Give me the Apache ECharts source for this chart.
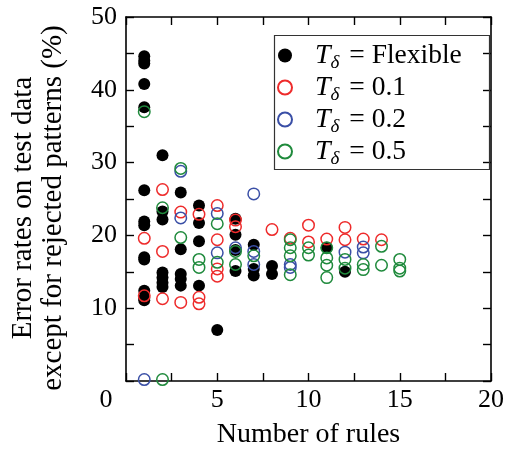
<!DOCTYPE html>
<html><head><meta charset="utf-8">
<script src="https://cdn.jsdelivr.net/npm/echarts@6/dist/echarts.min.js"></script>
<style>html,body{margin:0;padding:0;background:#fff}#c{width:507px;height:454px}</style>
</head><body><div id="c"></div>
<script>
const xTicks = [0, 5, 10, 15, 20];
const yTicks = [0, 10, 20, 30, 40, 50];
const seriesNames = ['Flexible', '0.1', '0.2', '0.5'];
const xTitle = 'Number of rules';
const yTitle = ['Error rates on test data', 'except for rejected patterns (%)'];

const flexible = [
  [1,44.6],[1,44.0],[1,43.6],[1,40.8],[1,37.6],[1,26.2],[1,21.9],[1,21.4],[1,17.0],[1,16.7],[1,12.4],[1,11.4],[1,11.1],
  [2,31.0],[2,23.3],[2,22.2],[2,14.9],[2,14.2],[2,13.5],[2,12.9],
  [3,25.9],[3,18.1],[3,14.7],[3,14.0],[3,13.1],
  [4,24.1],[4,21.7],[4,19.2],[4,13.1],
  [5,7.0],
  [6,22.3],[6,20.1],[6,18.0],[6,15.1],
  [7,18.7],[7,15.4],[7,14.5],
  [8,15.8],[8,14.7],
  [11,18.3],[12,15.0]
];
const t01 = [
  [1,19.6],[1,11.7],
  [2,26.3],[2,17.8],[2,11.3],
  [3,23.2],[3,10.8],
  [4,22.9],[4,11.5],[4,10.6],
  [5,24.1],[5,19.4],[5,15.4],[5,14.4],
  [6,22.1],[6,21.2],
  [8,20.8],
  [9,19.6],
  [10,21.4],[10,19.1],
  [11,19.5],
  [12,21.1],[12,19.4],
  [13,19.5],
  [14,19.4]
];
const t02 = [
  [1,0.2],[3,28.8],[3,22.4],[5,23.0],[5,17.6],[6,18.3],[7,25.7],[7,17.8],[7,16.0],
  [9,16.0],[9,15.6],[12,17.7],[13,18.4],[13,17.6]
];
const t05 = [
  [1,37.0],[2,0.2],[2,23.8],[3,29.2],[3,19.7],[4,16.7],[4,15.6],[5,21.6],[5,16.3],
  [6,17.8],[6,16.0],[7,17.2],[9,19.4],[9,18.3],[9,17.2],[9,14.6],[10,18.3],[10,17.3],
  [11,18.3],[11,16.9],[11,15.9],[11,14.2],[12,16.7],[12,15.5],[13,16.0],[13,15.3],
  [14,18.5],[14,15.9],[15,16.7],[15,15.5],[15,15.1]
];

const FONT = '"Liberation Serif", "Times New Roman", serif';
const colors = ['#000000', '#ee2b2b', '#3a4fa6', '#1f8a3c'];
const dataSets = [flexible, t01, t02, t05];

const axisCommon = {
  type: 'value',
  axisLine: { show: true, onZero: false, lineStyle: { color: '#000', width: 1.6 } },
  axisTick: { show: true, inside: true, length: 8, lineStyle: { color: '#000', width: 1.4 } },
  minorTick: { show: true, splitNumber: 2, length: 8, lineStyle: { color: '#000', width: 1.4 } },
  splitLine: { show: false },
  minorSplitLine: { show: false }
};

const chart = echarts.init(document.getElementById('c'), null, { renderer: 'canvas' });
chart.setOption({
  animation: false,
  backgroundColor: '#fff',
  grid: { left: 122, right: 16, top: 17, bottom: 67, containLabel: false },
  xAxis: [
    Object.assign({}, axisCommon, {
      position: 'bottom', min: xTicks[0], max: xTicks[xTicks.length - 1], interval: 5,
      name: xTitle, nameLocation: 'middle', nameGap: 40,
      nameTextStyle: { fontFamily: FONT, fontSize: 28, color: '#000' },
      axisLabel: {
        fontFamily: FONT, fontSize: 26, color: '#000', margin: 6,
        formatter: v => v === 0 ? '{z|0}' : String(v),
        rich: { z: { fontFamily: FONT, fontSize: 26, color: '#000', padding: [0, 40, 0, 0] } }
      }
    }),
    Object.assign({}, axisCommon, {
      position: 'top', min: xTicks[0], max: xTicks[xTicks.length - 1], interval: 5,
      axisLabel: { show: false }
    })
  ],
  yAxis: [
    Object.assign({}, axisCommon, {
      position: 'left', min: yTicks[0], max: yTicks[yTicks.length - 1], interval: 10,
      name: yTitle.join('\n'), nameLocation: 'middle', nameGap: 58, nameRotate: 90,
      nameTextStyle: { fontFamily: FONT, fontSize: 29, color: '#000', lineHeight: 30, padding: [0, 18, 0, 0] },
      axisLabel: {
        fontFamily: FONT, fontSize: 26, color: '#000', margin: 9,
        formatter: v => v === 0 ? '' : String(v)
      }
    }),
    Object.assign({}, axisCommon, {
      position: 'right', min: yTicks[0], max: yTicks[yTicks.length - 1], interval: 10,
      axisLabel: { show: false }
    })
  ],
  legend: {
    orient: 'vertical', left: 272, top: 34, itemWidth: 40, itemHeight: 14, itemGap: -1,
    data: seriesNames.map((n, i) => ({ name: n, icon: 'circle' })),
    formatter: n => '{t|T}{d|δ}{n| = ' + n + '}',
    textStyle: {
      color: '#000', fontFamily: FONT, fontSize: 27, lineHeight: 26,
      rich: {
        t: { fontFamily: FONT, fontStyle: 'italic', fontSize: 28, color: '#000', lineHeight: 26, padding: [0, 0, 0, 5] },
        d: { fontFamily: FONT, fontStyle: 'italic', fontSize: 19, color: '#000', lineHeight: 26, padding: [14, 3, 0, 0] },
        n: { fontFamily: FONT, fontSize: 27.5, color: '#000', lineHeight: 26 }
      }
    }
  },
  graphic: [{
    type: 'rect', left: 272, top: 33, z: 100,
    shape: { width: 215, height: 134 },
    style: { fill: 'none', stroke: '#333', lineWidth: 1.2 }
  }],
  series: dataSets.map((d, i) => ({
    name: seriesNames[i], type: 'scatter', data: d, clip: false,
    symbol: 'circle', symbolSize: i === 0 ? 12 : 11.5,
    itemStyle: i === 0
      ? { color: '#000', borderWidth: 0, opacity: 1 }
      : { color: 'rgba(255,255,255,0)', borderColor: colors[i], borderWidth: 1.5, opacity: 1 }
  }))
});
</script>
</body></html>
